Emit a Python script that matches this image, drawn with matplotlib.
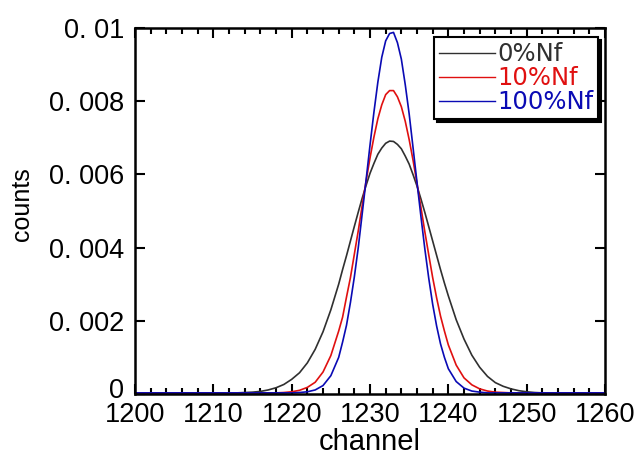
import matplotlib
matplotlib.use("Agg")
import matplotlib.pyplot as plt
import matplotlib.transforms as mtransforms
from matplotlib.ticker import MultipleLocator, FixedLocator, FixedFormatter

# channel axis: one point per channel on the tails, half-channel steps across the peak
channels = [1200,
            1212, 1213, 1214, 1215, 1216, 1217, 1218, 1219, 1220, 1221, 1222, 1223, 1224, 1225,
            1226, 1226.5, 1227, 1227.5, 1228, 1228.5, 1229, 1229.5, 1230, 1230.5,
            1231, 1231.5, 1232, 1232.5, 1233, 1233.5, 1234, 1234.5, 1235, 1235.5,
            1236, 1236.5, 1237, 1237.5, 1238, 1238.5, 1239, 1239.5, 1240,
            1241, 1242, 1243, 1244, 1245, 1246, 1247, 1248, 1249, 1250, 1251, 1252, 1253, 1254,
            1260]

counts_0 = [0.00003,
            0.00003, 0.00003, 0.00004, 0.00005, 0.00007, 0.00011, 0.00017, 0.00026, 0.00040, 0.00058, 0.00085, 0.00122, 0.00170, 0.00230,
            0.00300, 0.00340, 0.00378, 0.00418, 0.00458, 0.00497, 0.00535, 0.00570, 0.00603, 0.00630,
            0.00655, 0.00672, 0.00685, 0.00691, 0.00690, 0.00682, 0.00670, 0.00650, 0.00628, 0.00599,
            0.00568, 0.00533, 0.00496, 0.00457, 0.00418, 0.00379, 0.00340, 0.00303, 0.00268,
            0.00203, 0.00150, 0.00106, 0.00073, 0.00048, 0.00031, 0.00021, 0.00014, 0.00009, 0.00006, 0.00004, 0.00003, 0.00003, 0.00003,
            0.00003]

counts_10 = [0.00003,
             0.00003, 0.00003, 0.00003, 0.00003, 0.00003, 0.00003, 0.00003, 0.00004, 0.00006, 0.00010, 0.00018, 0.00032, 0.00060, 0.00105,
             0.00172, 0.00210, 0.00265, 0.00318, 0.00382, 0.00446, 0.00515, 0.00582, 0.00645, 0.00702,
             0.00752, 0.00790, 0.00818, 0.00829, 0.00829, 0.00812, 0.00785, 0.00745, 0.00695, 0.00638,
             0.00575, 0.00510, 0.00443, 0.00380, 0.00318, 0.00263, 0.00213, 0.00172, 0.00134,
             0.00079, 0.00044, 0.00025, 0.00014, 0.00008, 0.00005, 0.00004, 0.00003, 0.00003, 0.00003, 0.00003, 0.00003, 0.00003, 0.00003,
             0.00003]

counts_100 = [0.00003,
              0.00003, 0.00003, 0.00003, 0.00003, 0.00003, 0.00003, 0.00003, 0.00003, 0.00003, 0.00004, 0.00006, 0.00011, 0.00023, 0.00050,
              0.00100, 0.00142, 0.00188, 0.00250, 0.00320, 0.00400, 0.00492, 0.00585, 0.00680, 0.00770,
              0.00852, 0.00920, 0.00965, 0.00985, 0.00988, 0.00960, 0.00915, 0.00845, 0.00765, 0.00672,
              0.00578, 0.00485, 0.00396, 0.00316, 0.00245, 0.00186, 0.00137, 0.00100, 0.00069,
              0.00034, 0.00016, 0.00008, 0.00005, 0.00003, 0.00003, 0.00003, 0.00003, 0.00003, 0.00003, 0.00003, 0.00003, 0.00003, 0.00003,
              0.00003]

series_labels = ["0%Nf", "10%Nf", "100%Nf"]
series_colors = ["#303030", "#e01010", "#0a0ab4"]

ytick_values = [0, 0.002, 0.004, 0.006, 0.008, 0.01]
ytick_labels = ["0", "0. 002", "0. 004", "0. 006", "0. 008", "0. 01"]

plt.rcParams['font.family'] = ['Liberation Sans', 'DejaVu Sans']

fig = plt.figure(figsize=(6.39, 4.57), dpi=100)
ax = fig.add_axes([0.2113, 0.1379, 0.7355, 0.8008])

for vals, lab, col in zip([counts_0, counts_10, counts_100], series_labels, series_colors):
    ax.plot(channels, vals, color=col, lw=1.2, label=lab)

ax.set_xlim(1200, 1260)
ax.set_ylim(0, 0.01)
ax.xaxis.set_major_locator(MultipleLocator(10))
ax.xaxis.set_minor_locator(MultipleLocator(2))
ax.yaxis.set_major_locator(FixedLocator(ytick_values))
ax.yaxis.set_major_formatter(FixedFormatter(ytick_labels))

ax.tick_params(which='both', direction='in', top=True, right=True, width=1.5)
ax.tick_params(which='major', length=7)
ax.tick_params(which='minor', length=4)
ax.tick_params(axis='x', pad=6, labelsize=19.5)
ax.tick_params(axis='y', pad=8, labelsize=19.5)
for s in ax.spines.values():
    s.set_linewidth(1.8)

# lift the "0" label a little so it does not run into "1200"
zero_label = ax.yaxis.get_major_ticks()[0].label1
zero_label.set_transform(zero_label.get_transform() +
                         mtransforms.ScaledTranslation(0, 4 / 72, fig.dpi_scale_trans))

ax.set_xlabel("channel", fontsize=21, labelpad=0)
ax.set_ylabel("counts", fontsize=18)
ax.yaxis.set_label_coords(-0.215, 0.52)

leg = ax.legend(loc='upper right', bbox_to_anchor=(0.985, 0.975),
                prop={'family': 'DejaVu Sans', 'size': 17.5},
                fancybox=False, shadow={'color': 'black', 'alpha': 1},
                handlelength=2.3, handletextpad=0.1, labelspacing=0.0,
                borderpad=0.2, borderaxespad=0)
leg.get_frame().set_edgecolor('black')
leg.get_frame().set_linewidth(1.5)
for txt, col in zip(leg.get_texts(), series_colors):
    txt.set_color(col)
for h in leg.get_lines():
    h.set_linewidth(1.0)

fig.savefig("out.png", dpi=100)
